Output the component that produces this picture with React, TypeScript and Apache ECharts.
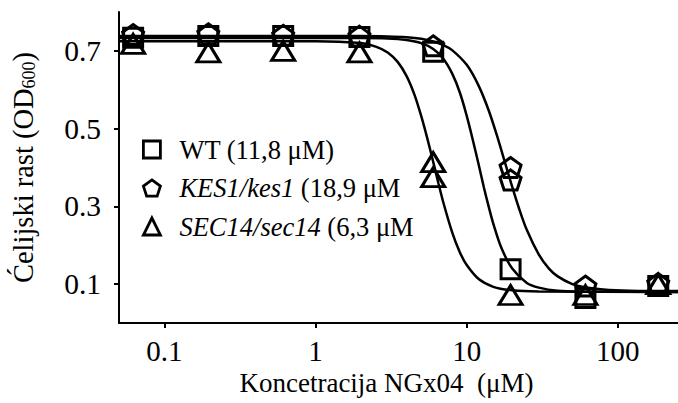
import React, { useEffect, useRef } from "react";
import * as echarts from "echarts";

// ---------- data ----------
const xTickValues = [0.1, 1, 10, 100];
const yTickValues = [0.1, 0.3, 0.5, 0.7];

const wtDoses = [0.062, 0.195, 0.61, 1.95, 6, 19.5, 61, 185];
const wtValues = [0.734, 0.738, 0.738, 0.736, 0.698, 0.138, 0.064, 0.095];

const kesDoses = [0.062, 0.195, 0.61, 1.95, 6, 19.5, 19.5, 61, 185];
const kesValues = [0.742, 0.744, 0.74, 0.738, 0.713, 0.4, 0.368, 0.095, 0.102];

const secDoses = [0.062, 0.195, 0.61, 1.95, 6, 6, 19.5, 61, 185];
const secValues = [0.718, 0.696, 0.7, 0.696, 0.414, 0.375, 0.072, 0.072, 0.1];

// fitted curves
const wtCurveX = [0.05, 1, 2, 3, 4, 5, 6, 7, 8, 9, 10, 11, 12, 13, 14, 15, 17, 20, 25, 30, 40, 60, 250];
const wtCurveY = [0.733, 0.733, 0.733, 0.732, 0.728, 0.72, 0.705, 0.68, 0.642, 0.593, 0.533, 0.469, 0.407, 0.348, 0.298, 0.255, 0.192, 0.14, 0.103, 0.091, 0.083, 0.081, 0.08];

const kesCurveX = [0.05, 1, 2, 3, 4, 5, 6, 7, 8, 10, 12, 14, 16, 18, 20, 22, 25, 30, 35, 40, 50, 60, 80, 120, 250];
const kesCurveY = [0.738, 0.738, 0.738, 0.737, 0.735, 0.731, 0.724, 0.715, 0.702, 0.664, 0.61, 0.546, 0.477, 0.41, 0.35, 0.299, 0.239, 0.176, 0.14, 0.12, 0.1, 0.092, 0.086, 0.083, 0.082];

const secCurveX = [0.05, 1, 2, 2.5, 3, 3.5, 4, 4.5, 5, 5.5, 6.1, 6.5, 7, 8, 9, 10, 12, 15, 20, 30, 250];
const secCurveY = [0.725, 0.725, 0.72, 0.711, 0.696, 0.671, 0.635, 0.588, 0.532, 0.473, 0.403, 0.359, 0.31, 0.234, 0.182, 0.149, 0.113, 0.093, 0.084, 0.081, 0.08];

const legendNames = ["WT", "KES1", "SEC14"];
const legendLabels: Record<string, string> = {
  WT: "WT (11,8 μM)",
  KES1: "{i|KES1/kes1} (18,9 μM",
  SEC14: "{i|SEC14/sec14} (6,3 μM",
};

const pentagon = "path://M10,0 L19.51,6.91 L15.88,18.09 L4.12,18.09 L0.49,6.91 Z";

const pairs = (xs: number[], ys: number[]) => xs.map((x, i) => [x, ys[i]]);

const FONT = "'Liberation Serif', 'Times New Roman', serif";
const INK = "#000";

export default function App() {
  const ref = useRef<HTMLDivElement>(null);

  useEffect(() => {
    if (!ref.current) return;
    const chart = echarts.init(ref.current, undefined, { renderer: "svg" });

    const markerStyle = {
      color: "rgba(255,255,255,0)",
      borderColor: INK,
      borderWidth: 3,
      opacity: 1,
    };
    const curve = (name: string, xs: number[], ys: number[]) => ({
      name,
      type: "line",
      data: pairs(xs, ys),
      showSymbol: false,
      symbol: "none",
      smooth: 0.3,
      silent: true,
      z: 1,
      lineStyle: { color: INK, width: 2.5 },
    });
    const points = (name: string, symbol: string, size: any, xs: number[], ys: number[]) => ({
      name,
      type: "scatter",
      data: pairs(xs, ys),
      symbol,
      symbolSize: size,
      symbolKeepAspect: true,
      itemStyle: markerStyle,
      z: 3,
    });

    chart.setOption({
      animation: false,
      backgroundColor: "#fff",
      textStyle: { fontFamily: FONT, color: INK },
      grid: { left: 115, right: 0, top: 12, bottom: 80, containLabel: false },
      legend: {
        orient: "vertical",
        left: 137,
        top: 130,
        itemWidth: 17,
        itemHeight: 17,
        itemGap: 9.5,
        selectedMode: false,
        data: legendNames.map((n) => ({
          name: n,
          itemStyle: { color: "#fff", borderColor: INK, borderWidth: 2.8, opacity: 1 },
        })),
        formatter: (n: string) => legendLabels[n],
        textStyle: {
          fontFamily: FONT,
          fontSize: 26.5,
          lineHeight: 29,
          color: INK,
          padding: [0, 0, 0, 14],
          rich: {
            i: { fontFamily: FONT, fontSize: 26.5, fontStyle: "italic", color: INK, lineHeight: 29 },
          },
        },
      },
      xAxis: {
        type: "log",
        logBase: 10,
        min: 0.05,
        max: 250,
        name: "Koncetracija NGx04  (μM)",
        nameLocation: "middle",
        nameGap: 45,
        nameTextStyle: { fontFamily: FONT, fontSize: 27, color: INK, padding: [0, 24, 0, 0] },
        axisLine: { lineStyle: { color: INK, width: 2 } },
        axisTick: { show: true, length: 5, lineStyle: { color: INK, width: 2 }, customValues: xTickValues },
        axisLabel: {
          customValues: xTickValues,
          fontFamily: FONT,
          fontSize: 29,
          color: INK,
          margin: 13,
          formatter: (v: number) => (v < 1 ? v.toFixed(1) : v.toFixed(0)),
        },
        splitLine: { show: false },
        minorTick: { show: false },
      },
      yAxis: {
        type: "value",
        min: 0,
        max: 0.8,
        name: "{a|Ćelijski rast (OD}{s|600}{a|)}",
        nameLocation: "middle",
        nameGap: 80,
        nameTextStyle: {
          rich: {
            a: { fontFamily: FONT, fontSize: 28.5, color: INK, lineHeight: 31 },
            s: { fontFamily: FONT, fontSize: 18, color: INK, lineHeight: 20, verticalAlign: "top", padding: [12, 0, 0, 0] },
          },
        },
        axisLine: { show: true, lineStyle: { color: INK, width: 2 } },
        axisTick: { show: true, length: 5, lineStyle: { color: INK, width: 2 }, customValues: yTickValues },
        axisLabel: {
          customValues: yTickValues,
          fontFamily: FONT,
          fontSize: 29.5,
          color: INK,
          margin: 18,
          formatter: (v: number) => v.toFixed(1),
        },
        splitLine: { show: false },
      },
      series: [
        curve("WT fit", wtCurveX, wtCurveY),
        curve("KES1 fit", kesCurveX, kesCurveY),
        curve("SEC14 fit", secCurveX, secCurveY),
        points("WT", "rect", 19, wtDoses, wtValues),
        points("KES1", pentagon, 21, kesDoses, kesValues),
        points("SEC14", "triangle", [23, 19], secDoses, secValues),
      ],
    });

    return () => chart.dispose();
  }, []);

  return (
    <div
      ref={ref}
      style={{ position: "absolute", left: 0, top: 0, width: 678, height: 403 }}
    />
  );
}
